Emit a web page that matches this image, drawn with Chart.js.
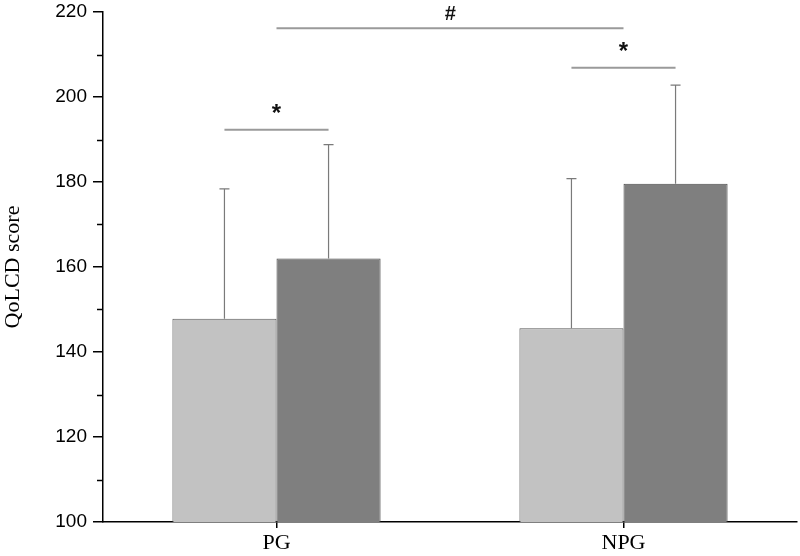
<!DOCTYPE html>
<html><head><meta charset="utf-8">
<script src="https://cdn.jsdelivr.net/npm/chart.js@4/dist/chart.umd.min.js"></script>
<style>html,body{margin:0;padding:0;background:#fff}#wrap{width:800px;height:556px}</style>
</head><body><div id="wrap"><canvas id="c" width="800" height="556"></canvas></div>
<script>
const categories = ['PG', 'NPG'];
const lightValues = [147.8, 145.6];
const darkValues = [162.0, 179.6];
const lightErrors = [30.6, 35.2];
const darkErrors = [26.8, 23.2];
const yTicks = [100, 120, 140, 160, 180, 200, 220];
const minorTicks = [110, 130, 150, 170, 190, 210];
// significance brackets
const sigMarks = [
  {fromDs: 0, fromIdx: 0, toDs: 1, toIdx: 0, value: 192.3, label: '*'},
  {fromDs: 0, fromIdx: 1, toDs: 1, toIdx: 1, value: 206.9, label: '*'},
  {fromDs: -1, fromIdx: 0, toDs: -1, toIdx: 1, value: 216.2, label: '#'}
];

const extras = {
  id: 'extras',
  afterDatasetsDraw(chart) {
    const ctx = chart.ctx;
    const y = chart.scales.y, x = chart.scales.x;
    const errs = [lightErrors, darkErrors];
    const vals = [lightValues, darkValues];
    ctx.save();
    ctx.strokeStyle = '#7a7a7a';
    ctx.lineWidth = 1.2;
    for (let d = 0; d < 2; d++) {
      const meta = chart.getDatasetMeta(d);
      meta.data.forEach((bar, i) => {
        const top = y.getPixelForValue(vals[d][i] + errs[d][i]);
        const base = y.getPixelForValue(vals[d][i]);
        ctx.beginPath();
        ctx.moveTo(bar.x, base); ctx.lineTo(bar.x, top);
        ctx.moveTo(bar.x - 5, top); ctx.lineTo(bar.x + 5, top);
        ctx.stroke();
      });
    }
    ctx.strokeStyle = '#000';
    ctx.lineWidth = 1.5;
    minorTicks.forEach(v => {
      const py = Math.round(y.getPixelForValue(v)) + 0.5;
      ctx.beginPath();
      ctx.moveTo(chart.chartArea.left - 6, py); ctx.lineTo(chart.chartArea.left, py);
      ctx.stroke();
    });
    sigMarks.forEach(s => {
      const xa = s.fromDs < 0 ? x.getPixelForValue(s.fromIdx) : chart.getDatasetMeta(s.fromDs).data[s.fromIdx].x;
      const xb = s.toDs < 0 ? x.getPixelForValue(s.toIdx) : chart.getDatasetMeta(s.toDs).data[s.toIdx].x;
      const py = y.getPixelForValue(s.value);
      ctx.strokeStyle = '#9a9a9a';
      ctx.lineWidth = 2;
      ctx.beginPath(); ctx.moveTo(xa, py); ctx.lineTo(xb, py); ctx.stroke();
      ctx.fillStyle = '#111';
      ctx.textAlign = 'center';
      ctx.textBaseline = 'middle';
      if (s.label === '*') {
        ctx.font = 'bold 24px "Liberation Sans", Arial, sans-serif';
        ctx.fillText(s.label, (xa + xb) / 2, py - 15);
      } else {
        ctx.font = 'italic bold 20px "Liberation Sans", Arial, sans-serif';
        ctx.fillText(s.label, (xa + xb) / 2, py - 14);
      }
    });
    ctx.restore();
  }
};

new Chart(document.getElementById('c'), {
  type: 'bar',
  data: {
    labels: categories,
    datasets: [
      {data: lightValues, backgroundColor: '#c2c2c2', borderColor: '#5a5a5a', borderWidth: 1, borderSkipped: 'bottom'},
      {data: darkValues, backgroundColor: '#7f7f7f', borderColor: '#4a4a4a', borderWidth: 1, borderSkipped: 'bottom'}
    ]
  },
  options: {
    responsive: false,
    animation: false,
    devicePixelRatio: 1,
    layout: {padding: {left: 0, right: 3, top: 12, bottom: 0}},
    plugins: {legend: {display: false}, tooltip: {enabled: false}},
    datasets: {bar: {barPercentage: 1.0, categoryPercentage: 0.6}},
    scales: {
      x: {
        offset: true,
        grid: {offset: false, drawOnChartArea: false, drawTicks: true, tickLength: 6, color: '#000', lineWidth: 1.5},
        border: {color: '#000', width: 1.5},
        ticks: {color: '#000', padding: 2, font: {family: '"Liberation Serif", "Times New Roman", serif', size: 22}},
        afterFit(s) { s.height = 34; s.paddingLeft = 0; s.paddingRight = 0; }
      },
      y: {
        min: 100, max: 220,
        afterBuildTicks(s) { s.ticks = yTicks.map(v => ({value: v})); },
        grid: {drawOnChartArea: false, drawTicks: true, tickLength: 10, color: '#000', lineWidth: 1.5},
        border: {color: '#000', width: 1.5},
        ticks: {color: '#000', padding: 6, font: {family: '"Liberation Sans", Arial, sans-serif', size: 19}},
        title: {display: true, text: 'QoLCD score', color: '#000', padding: {top: 0, bottom: 8}, font: {family: '"Liberation Serif", "Times New Roman", serif', size: 22}},
        afterFit(s) { s.width = 103; s.paddingTop = 0; s.paddingBottom = 0; }
      }
    }
  },
  plugins: [extras]
});
</script>
</body></html>
